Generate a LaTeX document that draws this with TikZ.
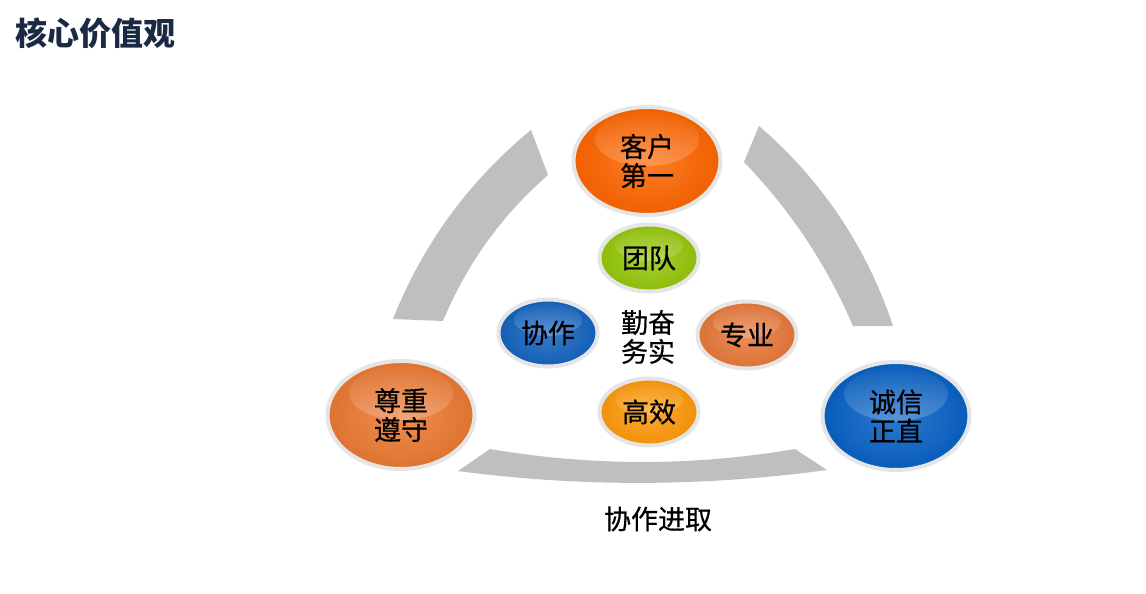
\documentclass[tikz,border=0pt]{standalone}
\usepackage{fontspec}
\setmainfont{Noto Sans CJK SC}
\newfontfamily\cjk[FakeBold=0.6]{Noto Sans CJK SC}
\newfontfamily\cjktitle{Noto Sans CJK SC}
\usetikzlibrary{shapes.geometric,fadings}

\definecolor{titleblue}{HTML}{1B2A44}
\definecolor{arcgray}{HTML}{BFBFBF}
\definecolor{kehu}{HTML}{FF6600}
\definecolor{zunzhong}{HTML}{EC7A32}
\definecolor{chengxin}{HTML}{0862C6}
\definecolor{tuandui}{HTML}{96C80A}
\definecolor{xiezuo}{HTML}{1464C0}
\definecolor{zhuanye}{HTML}{E8793A}
\definecolor{gaoxiao}{HTML}{FF9A0A}

\tikzset{
  ball/.style={ellipse, draw=black!10, line width=4pt, inner sep=0pt,
    inner color=#1!85!white, outer color=#1!94!black,
    font=\cjk\fontsize{27}{29}\selectfont, align=center},
  bigball/.style={ball=#1, minimum width=147pt, minimum height=108pt,
    path picture={\fill[white,path fading=north,fill opacity=.38]
      ([yshift=22pt]path picture bounding box.center) ellipse (52 and 27);}},
  smallball/.style={ball=#1, minimum width=99pt, minimum height=67pt,
    path picture={\fill[white,path fading=north,fill opacity=.38]
      ([yshift=13pt]path picture bounding box.center) ellipse (34 and 16);}},
  band/.style={fill=arcgray},
  words/.style={font=\cjk\fontsize{27}{29}\selectfont, align=center, inner sep=0pt}
}

\begin{document}
\begin{tikzpicture}[x=1pt,y=-1pt]
\fill[white] (0,0) rectangle (1146,594);
\useasboundingbox (0,0) rectangle (1146,594);

\node[anchor=west, inner sep=0pt, text=titleblue, font=\cjktitle\bfseries\fontsize{32}{34}\selectfont] (title) at (15,33) {核心价值观};

\begin{scope}
\fill[band] (531,130) .. controls (468.8,181.2) and (422.8,244.2) .. (393,319)
  -- (443,321) .. controls (466.6,264.1) and (501.6,215.5) .. (548,175) -- cycle;
\fill[band] (759,126) .. controls (822,180.4) and (866.6,247) .. (893,326)
  -- (853,326) .. controls (826.7,264.7) and (790.3,210.1) .. (744,162) -- cycle;
\fill[band] (490,449) .. controls (591.7,466.3) and (693.3,466.3) .. (795,449)
  -- (827,470) .. controls (704,486.7) and (581,487.3) .. (458,471) -- cycle;
\end{scope}

\node[bigball=kehu] (kehu) at (647,161) {客户\\第一};
\node[bigball=zunzhong] (zunzhong) at (401,415) {尊重\\遵守};
\node[bigball=chengxin] (chengxin) at (896,416) {诚信\\正直};

\node[smallball=tuandui] (tuandui) at (649,258) {团队};
\node[smallball=xiezuo] (xiezuo) at (548,333) {协作};
\node[smallball=zhuanye] (zhuanye) at (747,335) {专业};
\node[smallball=gaoxiao] (gaoxiao) at (649,412) {高效};

\node[words] (qinfen) at (648,337) {勤奋\\务实};
\node[words] (jinqu) at (658,519) {协作进取};

\end{tikzpicture}
\end{document}
